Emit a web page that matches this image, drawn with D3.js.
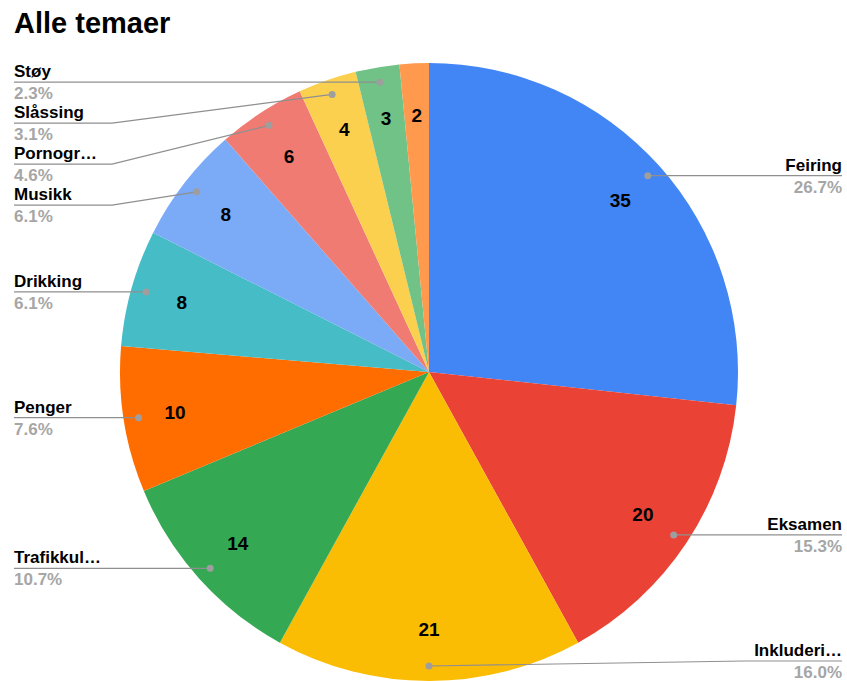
<!DOCTYPE html>
<html>
<head>
<meta charset="utf-8">
<script src="https://cdn.jsdelivr.net/npm/d3@7"></script>
<style>
  html, body { margin: 0; padding: 0; background: #fff; }
  svg { display: block; font-family: "Liberation Sans", Arial, sans-serif; }
</style>
</head>
<body>
<svg id="chart"></svg>
<script>
// Pie chart — Alle temaer

const categories = ["Feiring", "Eksamen", "Inkluderi…", "Trafikkul…", "Penger", "Drikking",
  "Musikk", "Pornogr…", "Slåssing", "Støy", ""];
const values = [35, 20, 21, 14, 10, 8, 8, 6, 4, 3, 2];
const colors = ["#4285f4", "#ea4335", "#fbbc04", "#34a853", "#ff6d01", "#46bdc6",
  "#7baaf7", "#f07b72", "#fcd04f", "#71c287", "#ff994d"];

(function () {
  const W = 847, H = 681;
  const cx = 429, cy = 372, R = 309;
  const DOT_R = 294, NUM_R = 257;
  const LEFT_X = 14, RIGHT_X = 842, ELBOW = 98;
  const GAP = 41;

  const data = categories.map((name, i) => ({ name, value: values[i], color: colors[i] }));
  const total = d3.sum(values);
  const pct = d3.format(".1%");

  const svg = d3.select("#chart").attr("width", W).attr("height", H);

  svg.append("text")
    .attr("x", 14).attr("y", 33)
    .attr("font-size", 29).attr("font-weight", 700)
    .attr("fill", "#000")
    .text("Alle temaer");

  const pie = d3.pie().sort(null).value(d => d.value);
  const arcs = pie(data);

  const arc = d3.arc().innerRadius(0).outerRadius(R);
  const dotArc = d3.arc().innerRadius(DOT_R).outerRadius(DOT_R);
  const numArc = d3.arc().innerRadius(NUM_R).outerRadius(NUM_R);

  const g = svg.append("g").attr("transform", `translate(${cx},${cy})`);

  g.selectAll("path.slice")
    .data(arcs)
    .join("path")
    .attr("class", "slice")
    .attr("fill", d => d.data.color)
    .attr("d", arc);

  // Values inside slices
  g.selectAll("text.num")
    .data(arcs)
    .join("text")
    .attr("class", "num")
    .attr("transform", d => `translate(${numArc.centroid(d)})`)
    .attr("text-anchor", "middle")
    .attr("dy", "0.35em")
    .attr("font-size", 19).attr("font-weight", 700)
    .attr("fill", "#000")
    .text(d => d.data.value);

  // Outside labels with leader lines
  const labelled = arcs.filter(d => d.data.name !== "").map(d => {
    const [dx, dy] = dotArc.centroid(d);
    return { d, x: cx + dx, y: cy + dy, side: dx < 0 ? "left" : "right" };
  });

  ["left", "right"].forEach(side => {
    const items = labelled.filter(l => l.side === side).sort((a, b) => a.y - b.y);
    let prev = -Infinity;
    items.forEach(l => {
      l.ly = Math.max(l.y, prev + GAP);
      prev = l.ly;
    });
    // keep the bottom one inside the frame
    let maxY = H - 20;
    for (let i = items.length - 1; i >= 0; i--) {
      if (items[i].ly > maxY) items[i].ly = maxY;
      maxY = items[i].ly - GAP;
    }
  });

  const lab = svg.append("g");
  labelled.forEach(l => {
    const left = l.side === "left";
    const edge = left ? LEFT_X : RIGHT_X;
    const elbow = left ? LEFT_X + ELBOW : RIGHT_X - ELBOW;
    let pts;
    if (Math.abs(l.ly - l.y) < 1) {
      pts = [[l.x, l.ly], [edge, l.ly]];
    } else {
      pts = [[l.x, l.y], [elbow, l.ly], [edge, l.ly]];
    }
    lab.append("path")
      .attr("d", d3.line()(pts))
      .attr("fill", "none")
      .attr("stroke", "#8f8f8f")
      .attr("stroke-width", 1.2);
    lab.append("circle")
      .attr("cx", l.x).attr("cy", l.y).attr("r", 3.5)
      .attr("fill", "#9e9e9e");
    lab.append("text")
      .attr("x", edge).attr("y", l.ly - 5)
      .attr("text-anchor", left ? "start" : "end")
      .attr("font-size", 17).attr("font-weight", 700)
      .attr("fill", "#000")
      .text(l.d.data.name);
    lab.append("text")
      .attr("x", edge).attr("y", l.ly + 17)
      .attr("text-anchor", left ? "start" : "end")
      .attr("font-size", 17).attr("font-weight", 700)
      .attr("fill", "#a6a6a6")
      .text(pct(l.d.data.value / total));
  });
})();
</script>
</body>
</html>
